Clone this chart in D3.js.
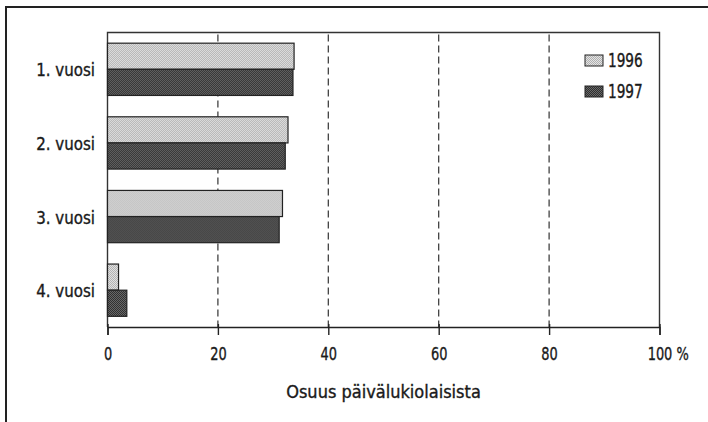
<!DOCTYPE html>
<html>
<head>
<meta charset="utf-8">
<script src="https://cdn.jsdelivr.net/npm/d3@7"></script>
<style>
  html, body { margin: 0; padding: 0; background: #fff; }
  svg { display: block; }
  text { font-family: "Liberation Sans Narrow", "DejaVu Sans Condensed", "Roboto Condensed", sans-serif; fill: #1a1a1a; stroke: #1a1a1a; stroke-width: 0.35px; }
</style>
</head>
<body>
<svg id="chart" width="708" height="422"></svg>
<script>
const categories = ["1. vuosi", "2. vuosi", "3. vuosi", "4. vuosi"];
const seriesNames = ["1996", "1997"];
const values1996 = [33.8, 32.7, 31.7, 2.0];
const values1997 = [33.6, 32.2, 31.1, 3.5];
const xTicks = [0, 20, 40, 60, 80, 100];
const xTickLabels = ["0", "20", "40", "60", "80", "100"];
const xUnit = "%";
const xTitle = "Osuus päivälukiolaisista";

(function () {
const svg = d3.select("#chart");
const pLeft = 107.5, pRight = 659.5, pTop = 32.5, pBottom = 327;
const narrow = 0.8; // horizontal squeeze for digit labels (condensed numerals)

// patterns for stippled fills
const defs = svg.append("defs");
function stipple(id, bg, dot) {
  const p = defs.append("pattern").attr("id", id).attr("width", 2).attr("height", 2)
    .attr("patternUnits", "userSpaceOnUse");
  p.append("rect").attr("width", 2).attr("height", 2).attr("fill", bg);
  p.append("rect").attr("width", 1).attr("height", 1).attr("fill", dot);
  p.append("rect").attr("x", 1).attr("y", 1).attr("width", 1).attr("height", 1).attr("fill", dot);
}
stipple("p1996", "#e4e4e4", "#b0b0b0");
stipple("p1997", "#6a6a6a", "#2e2e2e");
const fills = ["url(#p1996)", "url(#p1997)"];

// outer frame
svg.append("path").attr("d", "M6,422 V7 H708").attr("fill", "none").attr("stroke", "#222").attr("stroke-width", 2);

const x = d3.scaleLinear().domain([0, 100]).range([pLeft, pRight]);
const y = d3.scaleBand().domain(categories).range([pTop, pBottom]).paddingInner(0.29).paddingOuter(0.145);
const ySub = d3.scaleBand().domain(seriesNames).range([0, y.bandwidth()]);

// plot frame (top, right, left)
svg.append("path")
  .attr("d", `M${pLeft},${pBottom} V${pTop} H${pRight} V${pBottom}`)
  .attr("fill", "none").attr("stroke", "#333").attr("stroke-width", 1.4);

// dashed grid
svg.append("g").selectAll("line").data(xTicks.filter(t => t > 0 && t < 100)).join("line")
  .attr("x1", d => x(d)).attr("x2", d => x(d)).attr("y1", pTop + 2).attr("y2", pBottom)
  .attr("stroke", "#333").attr("stroke-width", 1.2).attr("stroke-dasharray", "7,4");

// bars
const data = categories.map((c, i) => ({ c, vals: [values1996[i], values1997[i]] }));
const grp = svg.append("g").selectAll("g").data(data).join("g")
  .attr("transform", d => `translate(0,${y(d.c)})`);
grp.selectAll("rect").data(d => d.vals.map((v, j) => ({ v, s: seriesNames[j], j }))).join("rect")
  .attr("x", x(0)).attr("y", d => ySub(d.s)).attr("width", d => x(d.v) - x(0)).attr("height", ySub.bandwidth())
  .attr("fill", d => fills[d.j]).attr("stroke", "#222").attr("stroke-width", 1.2);

// x axis
const xAxis = d3.axisBottom(x).tickValues(xTicks).tickSize(8).tickFormat((d, i) => xTickLabels[i]);
const gx = svg.append("g").attr("transform", `translate(0,${pBottom})`).call(xAxis);
gx.select(".domain").attr("stroke", "#222").attr("stroke-width", 1.4);
gx.selectAll(".tick line").attr("stroke", "#222").attr("stroke-width", 1.4).attr("y1", -3);
gx.selectAll(".tick text").attr("font-size", 18).attr("fill", "#1a1a1a").attr("dy", null).attr("y", 33)
  .attr("transform", `scale(${narrow},1)`)
  .style("font-family", '"Liberation Sans Narrow", "DejaVu Sans Condensed", sans-serif');
gx.selectAll(".tick").filter(d => d === 100).select("text").each(function () {
  const t = d3.select(this);
  const w = this.getComputedTextLength();
  t.attr("text-anchor", "start").attr("x", -w / 2).text(xTickLabels[xTickLabels.length - 1] + " " + xUnit);
});

// y labels
svg.append("g").selectAll("text").data(categories).join("text")
  .attr("x", 95).attr("y", d => y(d) + y.bandwidth() / 2 + 2)
  .attr("text-anchor", "end").attr("dominant-baseline", "middle").attr("font-size", 18)
  .attr("transform", "translate(95,0) scale(0.93,1) translate(-95,0)")
  .text(d => d);

// x title
svg.append("text").attr("x", (pLeft + pRight) / 2).attr("y", 398).attr("text-anchor", "middle")
  .attr("font-size", 18).text(xTitle);

// legend
const leg = svg.append("g").selectAll("g").data(seriesNames).join("g")
  .attr("transform", (d, i) => `translate(585,${55 + i * 31})`);
leg.append("rect").attr("width", 18).attr("height", 11).attr("fill", (d, i) => fills[i])
  .attr("stroke", "#222").attr("stroke-width", 1);
leg.append("text").attr("x", 23).attr("y", 6).attr("dominant-baseline", "middle").attr("font-size", 19)
  .attr("transform", `translate(23,0) scale(${narrow},1) translate(-23,0)`).text(d => d);
})();
</script>
</body>
</html>
